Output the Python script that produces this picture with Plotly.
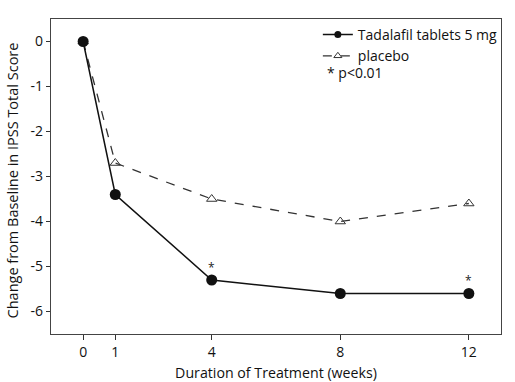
import plotly.graph_objects as go

weeks = [0, 1, 4, 8, 12]
tadalafil = [0, -3.4, -5.3, -5.6, -5.6]
placebo = [0, -2.7, -3.5, -4.0, -3.6]
sig_weeks = [4, 12]
sig_values = [-5.3, -5.6]
y_ticks = [0, -1, -2, -3, -4, -5, -6]
y_ticktext = ["0", "-1", "-2", "-3", "-4", "-5", "-6"]
x_ticks = [0, 1, 4, 8, 12]

FONT = "Open Sans"
fig = go.Figure()
fig.add_trace(go.Scatter(
    x=weeks, y=placebo, mode="lines+markers", name="placebo", showlegend=False,
    line=dict(color="#333", width=1.3, dash="dash"),
    marker=dict(symbol="triangle-up-open", size=9, color="#333", line=dict(width=1)),
))
fig.add_trace(go.Scatter(
    x=weeks, y=tadalafil, mode="lines+markers", name="Tadalafil tablets 5 mg",
    showlegend=False,
    line=dict(color="#111", width=1.5),
    marker=dict(symbol="circle", size=11, color="#111"),
))
# legend-only entries with smaller symbols, as in the reference legend
fig.add_trace(go.Scatter(
    x=[None], y=[None], mode="lines+markers", name="placebo",
    line=dict(color="#333", width=1.3, dash="dash"),
    marker=dict(symbol="triangle-up-open", size=7, color="#333", line=dict(width=1)),
))
fig.add_trace(go.Scatter(
    x=[None], y=[None], mode="lines+markers", name="Tadalafil tablets 5 mg",
    line=dict(color="#111", width=1.5),
    marker=dict(symbol="circle", size=7, color="#111"),
))
for xv, yv in zip(sig_weeks, sig_values):
    fig.add_annotation(x=xv, y=yv, text="*", showarrow=False, yshift=13,
                       font=dict(size=12, color="#222", family=FONT))
fig.add_annotation(xref="paper", yref="paper", x=0.609, y=0.829, xanchor="left",
                   yanchor="middle", text="* p<0.01", showarrow=False,
                   font=dict(size=14, color="#111", family=FONT))
fig.add_annotation(xref="paper", yref="paper", x=-0.0863, y=0.488, xanchor="center",
                   yanchor="middle", textangle=-90, showarrow=False,
                   text="Change from Baseline in IPSS Total Score",
                   font=dict(size=14.5, color="#111", family=FONT))

fig.update_layout(
    width=515, height=382,
    margin=dict(l=51, r=12, t=19, b=48),
    paper_bgcolor="white", plot_bgcolor="white",
    font=dict(family=FONT, size=14, color="#111"),
    showlegend=True,
    legend=dict(x=0.593, y=1.0, xanchor="left", yanchor="top",
                traceorder="reversed", bgcolor="rgba(0,0,0,0)",
                font=dict(size=14, family=FONT), itemwidth=30,
                tracegroupgap=0),
)
fig.update_xaxes(range=[-1, 13], tickvals=x_ticks, ticks="outside", ticklen=5,
                 tickcolor="#333", showline=True, linecolor="#444", linewidth=1.2,
                 mirror=True, showgrid=False, zeroline=False, automargin=False,
                 tickfont=dict(size=14),
                 title=dict(text="Duration of Treatment (weeks)", font=dict(size=14.2), standoff=10))
fig.update_yaxes(range=[-6.5, 0.5], tickvals=y_ticks, ticktext=y_ticktext,
                 ticks="outside", ticklen=4, tickcolor="#333",
                 showline=True, linecolor="#444", linewidth=1.2, mirror=True,
                 showgrid=False, zeroline=False, automargin=False,
                 tickfont=dict(size=14))
fig.write_html("out.html", config={"displayModeBar": False},
               post_script="document.body.style.margin='0';")
